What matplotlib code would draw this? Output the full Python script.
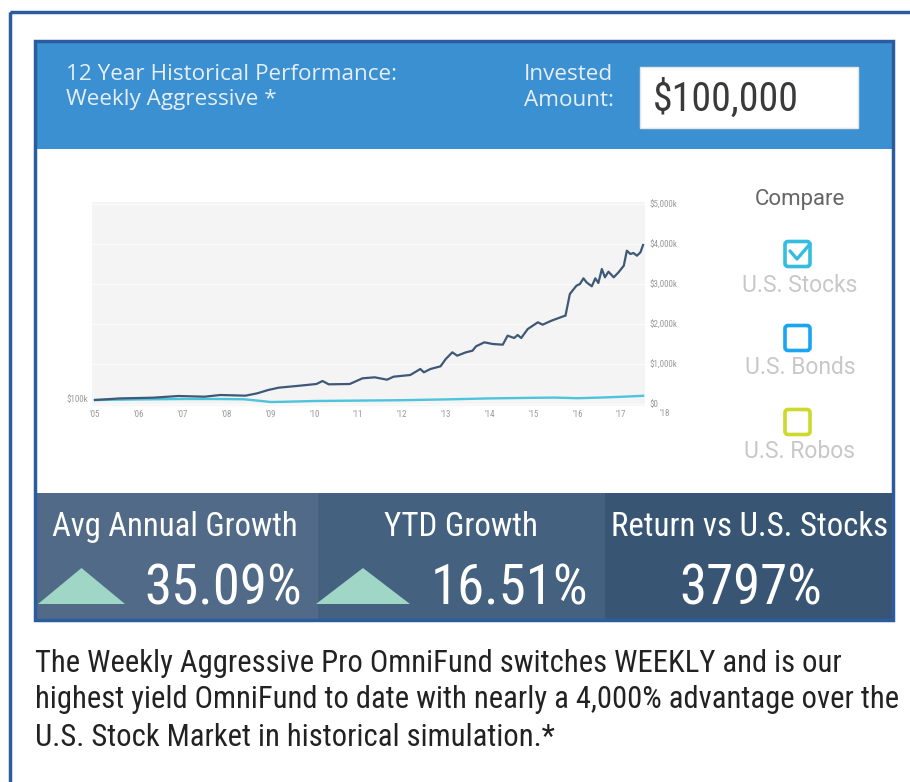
import matplotlib
matplotlib.use("Agg")
import matplotlib.pyplot as plt
import matplotlib.font_manager as fm
from matplotlib.font_manager import FontProperties
from matplotlib.patches import Rectangle, Polygon, FancyBboxPatch
from matplotlib.lines import Line2D

# ---------------- data ----------------
fund_years = [2005.0, 2005.57, 2006.33, 2006.9, 2007.5, 2007.86, 2008.43, 2008.7, 2008.95,
              2009.19, 2009.67, 2010.05, 2010.19, 2010.33, 2010.81, 2011.1, 2011.38, 2011.66,
              2011.81, 2012.19, 2012.42, 2012.5, 2012.65, 2012.88, 2013.0, 2013.15, 2013.26,
              2013.46, 2013.61, 2013.69, 2013.88, 2014.07, 2014.3, 2014.41, 2014.56, 2014.64,
              2014.72, 2014.87, 2015.1, 2015.21, 2015.41, 2015.68, 2015.73, 2015.83, 2015.98,
              2016.06, 2016.14, 2016.21, 2016.33, 2016.41, 2016.48, 2016.56, 2016.63, 2016.71,
              2016.83, 2016.94, 2017.06, 2017.13, 2017.21, 2017.28, 2017.36, 2017.44, 2017.5]
fund_values = [100, 140, 158, 200, 183, 225, 208, 267, 350,
               408, 458, 500, 575, 492, 500, 642, 667, 608,
               683, 725, 875, 792, 875, 942, 1125, 1292, 1208,
               1292, 1333, 1442, 1542, 1500, 1483, 1708, 1650, 1725,
               1650, 1875, 2042, 1983, 2083, 2192, 2208, 2750, 2958,
               3000, 3142, 3042, 2942, 3142, 3025, 3375, 3167, 3308,
               3167, 3292, 3458, 3833, 3750, 3775, 3708, 3792, 3975]

stock_years = [2005.0, 2006.0, 2007.0, 2007.8, 2008.4, 2008.8, 2009.0, 2009.3, 2010.0,
               2011.0, 2012.0, 2013.0, 2014.0, 2015.0, 2015.5, 2016.0, 2016.5, 2017.0, 2017.5]
stock_values = [100, 115, 125, 125, 118, 75, 50, 55, 75,
                85, 95, 115, 140, 155, 160, 145, 160, 180, 205]

x_ticks = list(range(2005, 2018))
x_tick_labels = ["'05", "'06", "'07", "'08", "'09", "'10", "'11", "'12", "'13", "'14",
                 "'15", "'16", "'17"]
y_ticks = [0, 1000, 2000, 3000, 4000, 5000]
y_tick_labels = ["$0", "$1,000k", "$2,000k", "$3,000k", "$4,000k", "$5,000k"]

header_title = ["12 Year Historical Performance:", "Weekly Aggressive *"]
invested_label = ["Invested", "Amount:"]
invested_amount = "$100,000"
compare_items = ["U.S. Stocks", "U.S. Bonds", "U.S. Robos"]
stat_labels = ["Avg Annual Growth", "YTD Growth", "Return vs U.S. Stocks"]
stat_values = ["35.09%", "16.51%", "3797%"]
footnote = ["The Weekly Aggressive Pro OmniFund switches WEEKLY and is our",
            "highest yield OmniFund to date with nearly a 4,000% advantage over the",
            "U.S. Stock Market in historical simulation.*"]

# ---------------- fonts ----------------
def pick_condensed():
    prefs = ["Liberation Sans Narrow", "Roboto Condensed", "Open Sans Condensed",
             "Noto Sans Condensed", "DejaVu Sans Condensed", "Noto Sans", "DejaVu Sans",
             "Roboto", "Open Sans"]
    best = None
    for f in fm.fontManager.ttflist:
        st = str(f.stretch)
        is_cond = ("Narrow" in f.name or "Condensed" in f.name
                   or st in ("condensed", "semi-condensed", "75", "87.5", "62.5")
                   or "Condensed" in f.fname or "Narrow" in f.fname)
        if not is_cond or f.style != "normal":
            continue
        if "Bold" in f.fname or "Italic" in f.fname or "Light" in f.fname \
                or "Thin" in f.fname or "Black" in f.fname or "Medium" in f.fname \
                or "SemiBold" in f.fname or "ExtraBold" in f.fname:
            continue
        if f.weight not in (400, "normal", "regular", "book"):
            continue
        rank = len(prefs)
        for i, p in enumerate(prefs):
            if f.name.startswith(p.split(" Condensed")[0].split(" Narrow")[0]):
                rank = min(rank, i)
        if "SemiCondensed" in f.fname and rank < len(prefs):
            rank += 0.5
        if best is None or rank < best[0]:
            best = (rank, f.fname)
    if best is None:
        return FontProperties(family=["Roboto", "DejaVu Sans"])
    return FontProperties(fname=best[1])

COND = pick_condensed()
HEAD = FontProperties(family=["Open Sans", "Noto Sans", "DejaVu Sans"])
ROBO = FontProperties(family=["Roboto", "DejaVu Sans"])

# ---------------- figure ----------------
W, H = 910, 782
fig = plt.figure(figsize=(W / 100, H / 100), dpi=100)
fig.patch.set_facecolor("white")
renderer = fig.canvas.get_renderer()

bg = fig.add_axes([0, 0, 1, 1])
bg.set_xlim(0, W)
bg.set_ylim(H, 0)
bg.axis("off")
bg.set_zorder(0)


def fit_text(x, y, s, target_w, fp, **kw):
    t = bg.text(x, y, s, fontproperties=fp.copy(), **kw)
    t.set_fontsize(10)
    w = t.get_window_extent(renderer).width
    t.set_fontsize(10 * target_w / w)
    return t


border_col = "#2b5c9e"
bg.add_patch(Rectangle((9.5, 11.5), 920, 800, fill=False, ec=border_col, lw=2.5))

px0, px1 = 35, 893
bg.add_patch(Rectangle((px0, 41), px1 - px0, 108, fc="#3b90d1", ec="none"))
bg.add_patch(Rectangle((px0, 149), px1 - px0, 344, fc="white", ec="none"))
sec_cols = ["#506a88", "#44617f", "#385674"]
sec_x = [px0, 318, 605, px1]
for i in range(3):
    bg.add_patch(Rectangle((sec_x[i], 493), sec_x[i + 1] - sec_x[i], 127, fc=sec_cols[i], ec="none"))
bg.add_patch(Rectangle((px0, 41), px1 - px0, 579, fill=False, ec=border_col, lw=2.5))

# header texts
hc = "#e6eff8"
t0 = fit_text(66, 75, header_title[0], 330, HEAD, color=hc, va="center", ha="left")
hs = t0.get_fontsize()
bg.text(66, 100, header_title[1], fontproperties=HEAD, fontsize=hs, color=hc, va="center", ha="left")
bg.text(524, 75, invested_label[0], fontproperties=HEAD, fontsize=hs, color=hc, va="center", ha="left")
bg.text(524, 100, invested_label[1], fontproperties=HEAD, fontsize=hs, color=hc, va="center", ha="left")
bg.add_patch(Rectangle((640, 67), 218, 61, fc="white", ec="#e4e4e4", lw=1))
fit_text(653, 99, invested_amount, 144, COND, color="#3a3a3a", va="center", ha="left")

# compare panel
bg.text(800, 200, "Compare", fontproperties=ROBO, color="#666666", fontsize=16, va="center", ha="center")
box_cols = ["#35bde0", "#1ba4f2", "#cdd92c"]
box_y = [254, 338, 422]
lab_y = [285, 368, 452]
for i in range(3):
    bg.add_patch(FancyBboxPatch((785, box_y[i] - 12.5), 25, 25,
                                boxstyle="round,pad=0,rounding_size=3",
                                fill=False, ec=box_cols[i], lw=2.6))
    bg.text(800, lab_y[i], compare_items[i], fontproperties=ROBO, color="#c8c8c8", fontsize=16.5,
            va="center", ha="center")
bg.add_line(Line2D([790, 797, 810], [251, 259, 244], color=box_cols[0], lw=2.4,
                   solid_capstyle="round", solid_joinstyle="round"))

# stats
stat_cx = [175, 461, 750]
stat_w = [245, 154, 275]
for i in range(3):
    fit_text(stat_cx[i], 527, stat_labels[i], stat_w[i], COND, color="white",
             va="center", ha="center")
bg.add_patch(Polygon([[38, 604], [125, 604], [81.5, 568]], closed=True, fc="#9fd6c6", ec="none"))
bg.add_patch(Polygon([[316, 604], [410, 604], [363, 568]], closed=True, fc="#9fd6c6", ec="none"))
fit_text(302, 589, stat_values[0], 157, COND, color="white", va="center", ha="right")
fit_text(588, 589, stat_values[1], 156, COND, color="white", va="center", ha="right")
fit_text(751, 589, stat_values[2], 143, COND, color="white", va="center", ha="center")

# footnote
f1 = fit_text(35, 663 + 37, footnote[1], 858, COND, color="#222222", va="center", ha="left")
fs = f1.get_fontsize()
for i in (0, 2):
    bg.text(35, 663 + 37 * i, footnote[i], fontproperties=COND, fontsize=fs, color="#222222",
            va="center", ha="left")

# ---------------- chart ----------------
ax_l, ax_r, ax_t, ax_b = 92, 645, 202, 406
ax = fig.add_axes([ax_l / W, 1 - ax_b / H, (ax_r - ax_l) / W, (ax_b - ax_t) / H])
ax.set_zorder(2)
ax.set_facecolor("#f4f4f4")
x_per_px = 13 / (665 - 95)
ax.set_xlim(2005 - (95 - ax_l) * x_per_px, 2005 + (ax_r - 95) * x_per_px)
ax.set_ylim(-50, 5050)
for s in ax.spines.values():
    s.set_visible(False)
ax.yaxis.tick_right()
ax.set_yticks(y_ticks)
ax.set_yticklabels(y_tick_labels)
ax.set_xticks(x_ticks)
ax.set_xticklabels(x_tick_labels)
ax.tick_params(axis="both", length=0, labelsize=6.5, labelcolor="#9a9a9a")
ax.tick_params(axis="y", pad=3)
ax.tick_params(axis="x", pad=3)
for lab in ax.get_xticklabels() + ax.get_yticklabels():
    lab.set_fontproperties(COND)
    lab.set_fontsize(6.5)
ax.grid(axis="y", color="#fbfbfb", lw=1.0)
ax.set_axisbelow(True)
ax.text(2018, -0.015, "'18", transform=ax.get_xaxis_transform(), ha="center", va="top",
        fontproperties=COND, fontsize=6.5, color="#9a9a9a", clip_on=False)
ax.text(-0.006, 100, "$100k", transform=ax.get_yaxis_transform(), ha="right", va="center",
        fontproperties=COND, fontsize=6.5, color="#9a9a9a", clip_on=False)

ax.plot(stock_years, stock_values, color="#4cc4dc", lw=1.7, solid_joinstyle="round")
ax.plot(fund_years, fund_values, color="#3e5876", lw=1.6, solid_joinstyle="round")

fig.savefig("out.png", dpi=100, facecolor="white")
